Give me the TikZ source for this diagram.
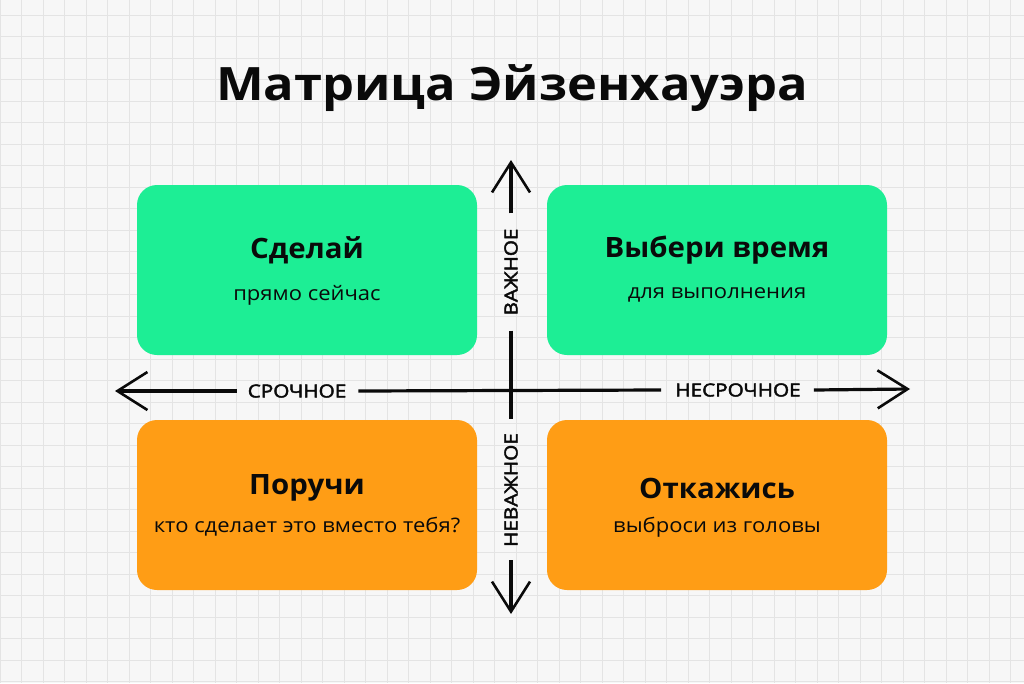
\documentclass[tikz,border=0pt]{standalone}
\usepackage{fontspec}
\setmainfont{Open Sans}
\newfontfamily\titlefont[FakeStretch=1.1]{Open Sans}
\newfontfamily\qtitlefont[FakeStretch=1.05]{Open Sans}
\newfontfamily\subfont[FakeStretch=1.1]{Open Sans}
\newfontfamily\axfont[FakeStretch=1.15, FakeBold=2.5]{Open Sans}
\usetikzlibrary{arrows.meta}
\definecolor{bgcol}{HTML}{F7F7F7}
\definecolor{gridcol}{HTML}{E4E4E4}
\definecolor{greencol}{HTML}{1DEE95}
\definecolor{orangecol}{HTML}{FF9D15}
\definecolor{inkcol}{HTML}{0A0A0A}
\tikzset{
  gridline/.style={draw=gridcol, line width=1pt},
  quad/.style={rounded corners=20pt, minimum width=340pt, minimum height=170pt, inner sep=0pt, draw=none},
  greenbox/.style={quad, fill=greencol},
  orangebox/.style={quad, fill=orangecol},
  qtitle/.style={text=inkcol, font=\qtitlefont\fontsize{28}{32}\selectfont\bfseries, inner sep=0pt},
  qsub/.style={text=inkcol, font=\subfont\fontsize{20}{24}\selectfont, inner sep=0pt},
  axlabel/.style={text=inkcol, font=\axfont\fontsize{18}{21}\selectfont, inner sep=0pt},
  axisline/.style={draw=inkcol, line width=3.2pt},
  axisarrow/.style={axisline, -{Straight Barb[length=30pt, width=38pt, line width=2.6pt]}},
}
\begin{document}
\begin{tikzpicture}[x=1pt, y=-1pt]
\useasboundingbox (0,0) rectangle (1024,683);
\fill[bgcol] (0,0) rectangle (1024,683);
\foreach \i in {0,...,48} \draw[gridline] (21.5*\i,0) -- (21.5*\i,683);
\foreach \j in {0,...,31} \draw[gridline] (0,15+21.5*\j) -- (1024,15+21.5*\j);

\node[text=inkcol, font=\titlefont\fontsize{46}{50}\selectfont\bfseries, inner sep=0pt] (title) at (512,88) {Матрица Эйзенхауэра};

\node[greenbox] (q1) at (307,270) {};
\node[greenbox] (q2) at (717,270) {};
\node[orangebox] (q3) at (307,505) {};
\node[orangebox] (q4) at (717,505) {};

\node[qtitle] (q1t) at (307,250) {Сделай};
\node[qsub] (q1s) at (307,295) {прямо сейчас};
\node[qtitle] (q2t) at (717,250) {Выбери время};
\node[qsub] (q2s) at (717,295) {для выполнения};
\node[qtitle] (q3t) at (307,488) {Поручи};
\node[qsub] (q3s) at (307,527) {кто сделает это вместо тебя?};
\node[qtitle] (q4t) at (717,488) {Откажись};
\node[qsub] (q4s) at (717,527) {выброси из головы};

\coordinate (ltip) at (115,391);
\coordinate (rtip) at (910,389);
\coordinate (ttip) at (511,160);
\coordinate (btip) at (511,614);

\node[axlabel] (urg) at (297,391) {СРОЧНОЕ};
\node[axlabel] (nurg) at (738,390) {НЕСРОЧНОЕ};
\node[axlabel, rotate=90] (imp) at (511,272) {ВАЖНОЕ};
\node[axlabel, rotate=90] (nimp) at (511,490) {НЕВАЖНОЕ};

\draw[axisarrow] ([xshift=-11pt]urg.west) -- (ltip);
\draw[axisline] ([xshift=12pt]urg.east) -- ([xshift=-14pt]nurg.west);
\draw[axisarrow] ([xshift=13pt]nurg.east) -- (rtip);
\draw[axisarrow] ([yshift=15pt]imp.east) -- (ttip);
\draw[axisline] ([yshift=-15pt]imp.west) -- ([yshift=14pt]nimp.east);
\draw[axisarrow] ([yshift=-13pt]nimp.west) -- (btip);
\end{tikzpicture}
\end{document}
